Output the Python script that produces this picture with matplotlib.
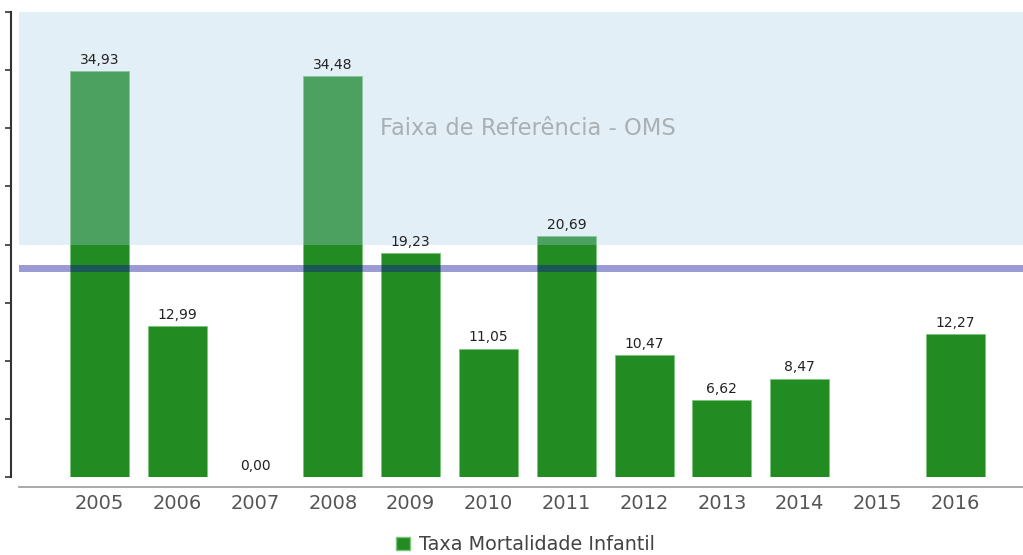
import numpy as np
import matplotlib.pyplot as plt
from matplotlib.patches import Patch

years = ['2005', '2006', '2007', '2008', '2009', '2010', '2011', '2012',
         '2013', '2014', '2015', '2016']
taxa = [34.93, 12.99, 0.00, 34.48, 19.23, 11.05, 20.69, 10.47, 6.62, 8.47,
        np.nan, 12.27]
faixa_min, faixa_max = 20, 40
linha_ref = 18

fig = plt.figure(figsize=(10.23, 5.55), dpi=100)
ax = fig.add_axes([19/1023, 78/555, 1 - 19/1023, 465/555])

x = np.arange(len(years))
ax.bar(x, taxa, width=0.76, color='#228b22', edgecolor='#7cc47c', lw=0.6, zorder=2)

# faixa de referencia, desenhada por cima das barras
ax.axhspan(faixa_min, faixa_max, color=(170/255, 208/255, 230/255), alpha=0.32, lw=0, zorder=3)
ax.axhline(linha_ref, color='#10109a', alpha=0.42, lw=5, zorder=4)

for xi, v in zip(x, taxa):
    if np.isnan(v):
        continue
    ax.annotate(f'{v:.2f}'.replace('.', ','), (xi, v), xytext=(0, 3),
                textcoords='offset points', ha='center', va='bottom',
                fontsize=10, color='#222222', zorder=5)

ax.text(5.5, 30, 'Faixa de Referência - OMS', ha='center', va='center',
        fontsize=16.3, color='#a8b0b3', zorder=5)

ax.set_xlim(-1.035, 11.87)
ax.set_ylim(0, 40)
ax.set_xticks(x)
ax.set_xticklabels(years)
ax.set_yticks(np.arange(0, 41, 5))
ax.set_yticklabels([])
ax.tick_params(axis='x', length=0, pad=5, labelsize=14, labelcolor='#555555')
ax.tick_params(axis='y', direction='out', length=4, width=1.2, color='#333333')

ax.spines['top'].set_visible(False)
ax.spines['right'].set_visible(False)
ax.spines['left'].set_position(('outward', 6))
ax.spines['left'].set_color('#333333')
ax.spines['left'].set_linewidth(1.5)
ax.spines['bottom'].set_position(('outward', 7))
ax.spines['bottom'].set_color('#999999')
ax.spines['bottom'].set_linewidth(1.2)

handle = Patch(facecolor='#228b22', edgecolor='#7cc47c', label='Taxa Mortalidade Infantil')
fig.legend(handles=[handle], loc='lower center', bbox_to_anchor=(0.514, -0.03),
           frameon=False, fontsize=13.8, handlelength=0.7, handleheight=0.7,
           handletextpad=0.5, labelcolor='#444444')

fig.savefig('out.png', dpi=100)
plt.close(fig)
